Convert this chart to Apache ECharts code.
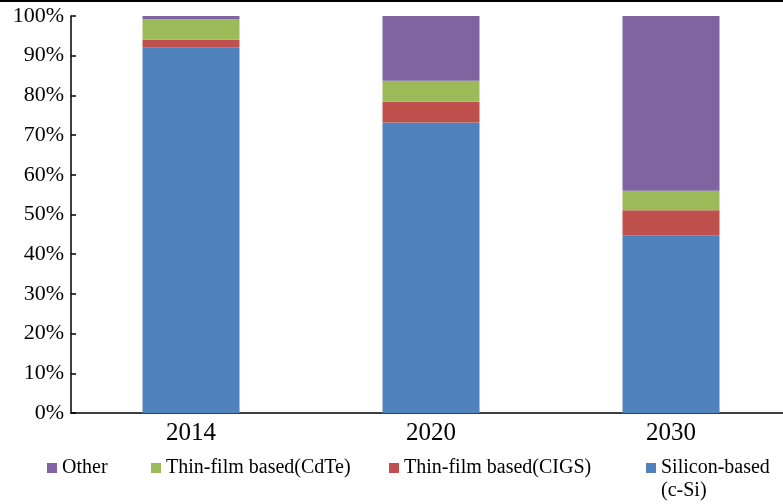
<!DOCTYPE html>
<html>
<head>
<meta charset="utf-8">
<script src="https://cdn.jsdelivr.net/npm/echarts@6/dist/echarts.min.js"></script>
<style>
  html, body { margin: 0; padding: 0; background: #fff; overflow: hidden; }
  #chart { width: 800px; height: 504px; }
</style>
</head>
<body>
<div id="chart"></div>
<script>
// Market share of PV technologies (%), stacked to 100%
const categories = ['2014', '2020', '2030'];
const siliconShare = [92.1, 73.2, 44.8];
const cigsShare = [1.9, 5.2, 6.3];
const cdteShare = [5.2, 5.3, 4.9];
const otherShare = [0.8, 16.3, 44.0];

const seriesNames = {
  silicon: 'Silicon-based (c-Si)',
  cigs: 'Thin-film based(CIGS)',
  cdte: 'Thin-film based(CdTe)',
  other: 'Other'
};

const serif = "'Liberation Serif', 'Times New Roman', serif";
const colors = {
  silicon: '#4F81BD',
  cigs: '#C0504D',
  cdte: '#9BBB59',
  other: '#8064A2'
};

function barSeries(name, data, color) {
  return {
    name: name,
    type: 'bar',
    stack: 'share',
    barWidth: 97,
    data: data,
    itemStyle: { color: color },
    emphasis: { disabled: true }
  };
}

function legendAt(name, left, formatter) {
  return {
    data: [name],
    left: left,
    top: 458,
    padding: 0,
    orient: 'horizontal',
    icon: 'rect',
    itemWidth: 10,
    itemHeight: 10,
    itemGap: 5,
    selectedMode: false,
    formatter: formatter || '{name}',
    textStyle: { fontFamily: serif, fontSize: 20, color: '#000' }
  };
}

const chart = echarts.init(document.getElementById('chart'), null, { renderer: 'canvas' });

chart.setOption({
  animation: false,
  backgroundColor: '#fff',
  // the plot runs slightly past the right edge of the visible page
  grid: { left: 71, top: 16, width: 720, height: 397, containLabel: false },
  xAxis: {
    type: 'category',
    data: categories,
    axisLine: { lineStyle: { color: '#000', width: 1.5 } },
    axisTick: { inside: true, length: 6, lineStyle: { color: '#000', width: 1.5 } },
    axisLabel: { fontFamily: serif, fontSize: 25, color: '#000', margin: 8 },
    splitLine: { show: false }
  },
  yAxis: {
    type: 'value',
    min: 0,
    max: 100,
    interval: 10,
    axisLine: { show: true, lineStyle: { color: '#000', width: 1.5 } },
    axisTick: { show: true, inside: true, length: 5, lineStyle: { color: '#000', width: 1.5 } },
    axisLabel: { fontFamily: serif, fontSize: 22, color: '#000', margin: 7, formatter: '{value}%' },
    splitLine: { show: false }
  },
  legend: [
    legendAt(seriesNames.other, 47),
    legendAt(seriesNames.cdte, 151),
    legendAt(seriesNames.cigs, 389),
    legendAt(seriesNames.silicon, 646, function () { return 'Silicon-based'; })
  ],
  graphic: [
    {
      type: 'rect',
      left: 0,
      top: 0,
      shape: { width: 800, height: 2 },
      style: { fill: '#000' },
      silent: true
    },
    {
      type: 'text',
      left: 661,
      top: 481,
      style: { text: '(c-Si)', font: '20px ' + serif, fill: '#000' },
      silent: true
    }
  ],
  series: [
    barSeries(seriesNames.silicon, siliconShare, colors.silicon),
    barSeries(seriesNames.cigs, cigsShare, colors.cigs),
    barSeries(seriesNames.cdte, cdteShare, colors.cdte),
    barSeries(seriesNames.other, otherShare, colors.other)
  ]
});
</script>
</body>
</html>
